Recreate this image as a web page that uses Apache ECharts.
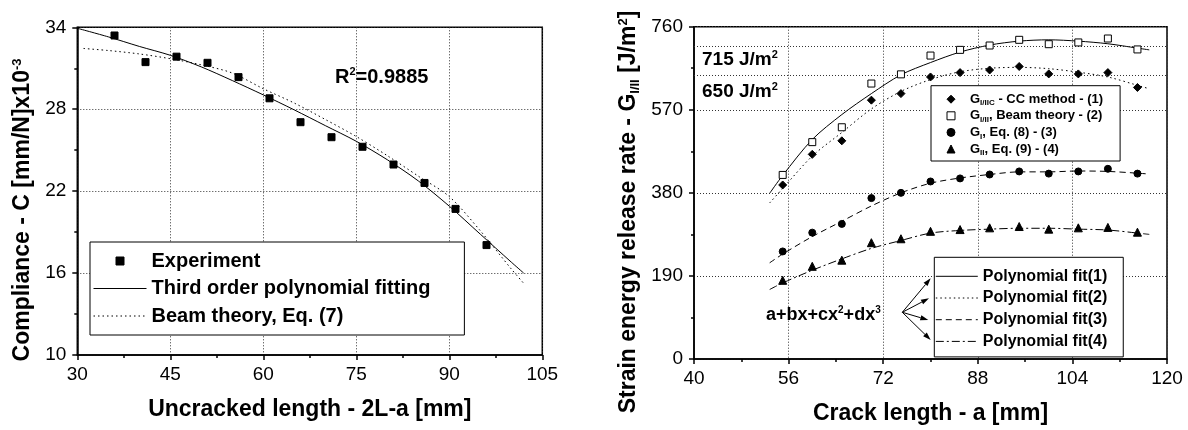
<!DOCTYPE html>
<html><head><meta charset="utf-8">
<script src="https://cdn.jsdelivr.net/npm/echarts@6.0.0/dist/echarts.min.js"></script>
<style>html,body{margin:0;padding:0;background:#fff}#c{width:1188px;height:430px}</style>
</head><body><div id="c"></div>
<script>
// ---------- Left chart data ----------
const expX = [36, 41, 46, 51, 56, 61, 66, 71, 76, 81, 86, 91, 96];
const expC = [33.4, 31.45, 31.85, 31.4, 30.35, 28.8, 27.05, 25.95, 25.25, 23.95, 22.6, 20.7, 18.05];
const polyX = [30, 35, 40, 45, 50, 55, 60, 65, 70, 75, 80, 85, 90, 95, 100, 102];
const polyC = [33.93, 33.3, 32.6, 31.95, 31.1, 30.1, 29.05, 27.95, 26.8, 25.65, 24.3, 22.75, 20.9, 18.85, 16.8, 16.0];
const beamX = [31, 35, 40, 45, 50, 55, 60, 65, 70, 75, 80, 85, 90, 95, 100, 102];
const beamC = [32.45, 32.3, 32.05, 31.7, 31.25, 30.65, 29.5, 28.45, 27.25, 26.0, 24.6, 23.1, 21.6, 19.1, 16.3, 15.25];
const leftXTicks = [30, 45, 60, 75, 90, 105];
const leftYTicks = [10, 16, 22, 28, 34];

// ---------- Right chart data ----------
const gX = [55, 60, 65, 70, 75, 80, 85, 90, 95, 100, 105, 110, 115];
const gCC = [398, 468, 499, 592, 607, 645, 655, 661, 669, 652, 652, 655, 621];
const gBeam = [421, 496, 530, 630, 651, 694, 707, 717, 730, 720, 724, 733, 708];
const gI = [246, 289, 309, 368, 380, 406, 413, 422, 429, 424, 429, 435, 424];
const gII = [180, 212, 226, 266, 275, 292, 296, 300, 303, 297, 300, 301, 290];
const fitX = [52.8, 55, 60, 65, 70, 75, 80, 85, 90, 95, 100, 105, 110, 115, 117];
const fit1 = [379, 420, 502, 559, 607, 650, 678, 702, 718, 727, 730, 727, 721, 711, 707];
const fit2 = [357, 390, 464, 518, 572, 612, 639, 657, 665, 667, 664, 656, 645, 626, 618];
const fit3 = [220, 240, 280, 315, 350, 380, 402, 414, 422, 428, 428, 430, 429, 425, 423];
const fit4 = [159, 174, 203, 229, 253, 271, 288, 294, 297, 299, 299, 297, 295, 288, 285];
const refLines = [715, 650];
const rightXTicks = [40, 56, 72, 88, 104, 120];
const rightYTicks = [0, 190, 380, 570, 760];

const FONT = '"Liberation Sans", Arial, Helvetica, sans-serif';
const pairs = (xs, ys) => xs.map((x, i) => [x, ys[i]]);

const chart = echarts.init(document.getElementById('c'), null, {renderer: 'canvas'});

function valueAxis(gi, ticks, extra) {
  const step = ticks[1] - ticks[0];
  return Object.assign({
    type: 'value', gridIndex: gi,
    min: ticks[0], max: ticks[ticks.length - 1], interval: step,
    axisLine: {show: true, onZero: false, lineStyle: {color: '#000', width: 1.5}},
    axisTick: {show: true, inside: false, length: 5, lineStyle: {color: '#000', width: 1.5}},
    minorTick: {show: true, splitNumber: 2, length: 3, lineStyle: {color: '#000', width: 1.5}},
    splitLine: {show: true, lineStyle: {color: '#333', width: 1, type: [1, 2]}},
    axisLabel: {color: '#000', fontSize: 19, fontFamily: FONT, margin: 10},
    nameTextStyle: {color: '#000', fontSize: 23, fontWeight: 'bold', fontFamily: FONT}
  }, extra || {});
}

function markerSeries(name, xi, yi, xs, ys, symbol, size, fill) {
  return {
    type: 'line', name: name, xAxisIndex: xi, yAxisIndex: yi,
    data: pairs(xs, ys), symbol: symbol, symbolSize: size, showSymbol: true,
    lineStyle: {width: 0},
    itemStyle: {color: fill, borderColor: '#000', borderWidth: 1, opacity: 1},
    emphasis: {disabled: true}, z: 5
  };
}
function fitSeries(name, xi, yi, xs, ys, dash, extra) {
  return Object.assign({
    type: 'line', name: name, xAxisIndex: xi, yAxisIndex: yi,
    data: pairs(xs, ys), symbol: 'none', smooth: 0.3,
    lineStyle: {color: '#000', width: 1, type: dash},
    itemStyle: {color: '#000'},
    emphasis: {disabled: true}, z: 3
  }, extra || {});
}

const rightNames = {
  'sCC': '{b|G}{s|I/IIC}{b| - CC method - (1)}',
  'sBeam': '{b|G}{s|I/II}{b|, Beam theory - (2)}',
  'sI': '{b|G}{s|I}{b|, Eq. (8) - (3)}',
  'sII': '{b|G}{s|II}{b|, Eq. (9) - (4)}'
};
const noSymbol = {color: 'rgba(0,0,0,0)', borderColor: 'rgba(0,0,0,0)', borderWidth: 0, opacity: 0};

// arrows from the equation to the fit legend
const arrowStart = [902.3, 312.3];
const arrowTips = [[930.7, 278.3], [929, 298.3], [928.3, 320], [930.7, 340]];
const arrowGraphics = [];
arrowTips.forEach(t => {
  const dx = t[0] - arrowStart[0], dy = t[1] - arrowStart[1];
  const L = Math.sqrt(dx * dx + dy * dy), ux = dx / L, uy = dy / L;
  const hl = 8, hw = 2.6;
  const bx = t[0] - ux * hl, by = t[1] - uy * hl;
  arrowGraphics.push({type: 'line', shape: {x1: arrowStart[0], y1: arrowStart[1], x2: bx, y2: by},
    style: {stroke: '#000', lineWidth: 1}, z: 100});
  arrowGraphics.push({type: 'polygon', shape: {points: [[t[0], t[1]], [bx - uy * hw, by + ux * hw], [bx + uy * hw, by - ux * hw]]},
    style: {fill: '#000'}, z: 100});
});

const option = {
  animation: false,
  backgroundColor: '#fff',
  textStyle: {fontFamily: FONT},
  grid: [
    {left: 77.3, top: 27.3, width: 465, height: 327.7, show: true, borderColor: '#000', borderWidth: 1.5, backgroundColor: 'transparent', containLabel: false},
    {left: 694, top: 26.7, width: 473, height: 334, show: true, borderColor: '#000', borderWidth: 1.5, backgroundColor: 'transparent', containLabel: false}
  ],
  xAxis: [
    valueAxis(0, leftXTicks, {name: 'Uncracked length - 2L-a [mm]', nameLocation: 'middle', nameGap: 43}),
    valueAxis(1, rightXTicks, {name: 'Crack length - a [mm]', nameLocation: 'middle', nameGap: 43})
  ],
  yAxis: [
    valueAxis(0, leftYTicks, {axisLabel: {color: '#000', fontSize: 19, fontFamily: FONT, margin: 11}}),
    valueAxis(1, rightYTicks, {axisLabel: {color: '#000', fontSize: 19, fontFamily: FONT, margin: 11}})
  ],
  legend: [
    {
      orient: 'vertical', left: 90, top: 242, padding: [8, 34, 8, 3], itemGap: 5.5,
      itemWidth: 53, itemHeight: 10, selectedMode: false,
      backgroundColor: '#fff', borderColor: '#000', borderWidth: 1,
      data: [
        {name: 'Experiment', lineStyle: {width: 0}},
        {name: 'Third order polynomial fitting', itemStyle: noSymbol},
        {name: 'Beam theory, Eq. (7)', itemStyle: noSymbol}
      ],
      lineStyle: {width: 1}, itemStyle: {borderWidth: 1},
      textStyle: {color: '#000', fontSize: 20, fontWeight: 'bold', fontFamily: FONT, lineHeight: 22}
    },
    {
      orient: 'vertical', left: 931, top: 85.7, padding: [7, 17, 4, 6], itemGap: 2.1,
      itemWidth: 28, itemHeight: 10, selectedMode: false,
      backgroundColor: '#fff', borderColor: '#000', borderWidth: 1,
      data: [
        {name: 'sCC', lineStyle: {width: 0}},
        {name: 'sBeam', lineStyle: {width: 0}},
        {name: 'sI', lineStyle: {width: 0}},
        {name: 'sII', lineStyle: {width: 0}}
      ],
      itemStyle: {borderWidth: 1},
      formatter: n => rightNames[n],
      textStyle: {color: '#000', fontFamily: FONT, rich: {
        b: {fontSize: 13, fontWeight: 'bold', fontFamily: FONT, lineHeight: 16, color: '#000'},
        s: {fontSize: 8, fontWeight: 'bold', fontFamily: FONT, lineHeight: 8, verticalAlign: 'bottom', color: '#000'}
      }}
    },
    {
      orient: 'vertical', left: 934.3, top: 257.3, padding: [10, 16, 6.5, 1], itemGap: 3.7,
      itemWidth: 42, itemHeight: 10, selectedMode: false,
      backgroundColor: '#fff', borderColor: '#000', borderWidth: 1,
      data: ['Polynomial fit(1)', 'Polynomial fit(2)', 'Polynomial fit(3)', 'Polynomial fit(4)'].map(n => ({name: n, itemStyle: noSymbol})),
      lineStyle: {width: 1},
      textStyle: {color: '#000', fontSize: 16, fontWeight: 'bold', fontFamily: FONT, lineHeight: 18}
    }
  ],
  series: [
    markerSeries('Experiment', 0, 0, expX, expC, 'rect', 7, '#000'),
    fitSeries('Third order polynomial fitting', 0, 0, polyX, polyC, 'solid'),
    fitSeries('Beam theory, Eq. (7)', 0, 0, beamX, beamC, [1.5, 3]),

    markerSeries('sCC', 1, 1, gX, gCC, 'diamond', 8, '#000'),
    markerSeries('sBeam', 1, 1, gX, gBeam, 'rect', 7, '#fff'),
    markerSeries('sI', 1, 1, gX, gI, 'circle', 7, '#000'),
    markerSeries('sII', 1, 1, gX, gII, 'triangle', 8, '#000'),
    fitSeries('Polynomial fit(1)', 1, 1, fitX, fit1, 'solid', {
      markLine: {silent: true, symbol: ['none', 'none'], label: {show: false},
        lineStyle: {color: '#333', width: 1, type: [1, 2]},
        data: refLines.map(v => ({yAxis: v}))}
    }),
    fitSeries('Polynomial fit(2)', 1, 1, fitX, fit2, [1.5, 3]),
    fitSeries('Polynomial fit(3)', 1, 1, fitX, fit3, [6, 4]),
    fitSeries('Polynomial fit(4)', 1, 1, fitX, fit4, [8, 3, 2, 3])
  ],
  graphic: [
    {type: 'text', x: 335, y: 77, z: 100, style: {
      text: '{b|R}{p|2}{b|=0.9885}', verticalAlign: 'middle', align: 'left',
      rich: {b: {fontSize: 20, fontWeight: 'bold', fontFamily: FONT, lineHeight: 22, fill: '#000'},
             p: {fontSize: 11, fontWeight: 'bold', fontFamily: FONT, lineHeight: 11, verticalAlign: 'top', fill: '#000'}}}},
    {type: 'text', x: 702, y: 60, z: 100, style: {
      text: '{b|715 J/m}{p|2}', verticalAlign: 'middle', align: 'left',
      rich: {b: {fontSize: 19, fontWeight: 'bold', fontFamily: FONT, lineHeight: 21, fill: '#000'},
             p: {fontSize: 11, fontWeight: 'bold', fontFamily: FONT, lineHeight: 11, verticalAlign: 'top', fill: '#000'}}}},
    {type: 'text', x: 702, y: 92, z: 100, style: {
      text: '{b|650 J/m}{p|2}', verticalAlign: 'middle', align: 'left',
      rich: {b: {fontSize: 19, fontWeight: 'bold', fontFamily: FONT, lineHeight: 21, fill: '#000'},
             p: {fontSize: 11, fontWeight: 'bold', fontFamily: FONT, lineHeight: 11, verticalAlign: 'top', fill: '#000'}}}},
    {type: 'text', x: 766, y: 315, z: 100, style: {
      text: '{b|a+bx+cx}{p|2}{b|+dx}{p|3}', verticalAlign: 'middle', align: 'left',
      rich: {b: {fontSize: 18, fontWeight: 'bold', fontFamily: FONT, lineHeight: 20, fill: '#000'},
             p: {fontSize: 10, fontWeight: 'bold', fontFamily: FONT, lineHeight: 10, verticalAlign: 'top', fill: '#000'}}}},
    {type: 'text', x: 23, y: 210, rotation: Math.PI / 2, z: 100, style: {
      text: '{b|Compliance - C [mm/N]x10}{p|-3}', verticalAlign: 'middle', align: 'center',
      rich: {b: {fontSize: 23, fontWeight: 'bold', fontFamily: FONT, lineHeight: 25, fill: '#000'},
             p: {fontSize: 13, fontWeight: 'bold', fontFamily: FONT, lineHeight: 13, verticalAlign: 'top', fill: '#000'}}}},
    {type: 'text', x: 629, y: 212, rotation: Math.PI / 2, z: 100, style: {
      text: '{b|Strain energy release rate - G}{s|I/II}{b| [J/m}{p|2}{b|]}', verticalAlign: 'middle', align: 'center',
      rich: {b: {fontSize: 23, fontWeight: 'bold', fontFamily: FONT, lineHeight: 25, fill: '#000'},
             s: {fontSize: 13, fontWeight: 'bold', fontFamily: FONT, lineHeight: 13, verticalAlign: 'bottom', fill: '#000'},
             p: {fontSize: 13, fontWeight: 'bold', fontFamily: FONT, lineHeight: 13, verticalAlign: 'top', fill: '#000'}}}}
  ].concat(arrowGraphics)
};
chart.setOption(option);
</script>
</body></html>
